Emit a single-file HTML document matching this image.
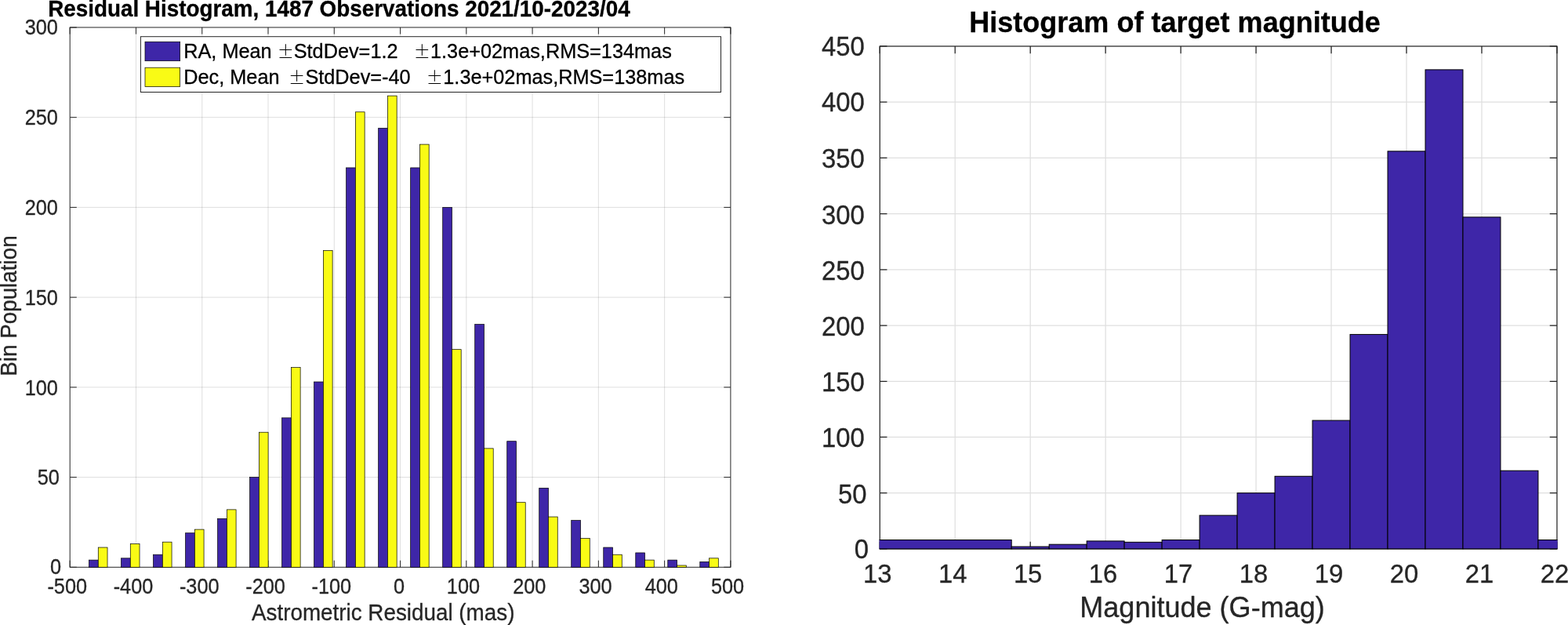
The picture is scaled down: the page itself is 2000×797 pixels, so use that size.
<!DOCTYPE html>
<html lang="en">
<head>
<meta charset="utf-8">
<title>Residual Histogram</title>
<style>
html,body{margin:0;padding:0;background:#fff;}
body{width:2000px;height:797px;overflow:hidden;}
svg{display:block;font-family:"Liberation Sans",Arial,Helvetica,sans-serif;fill:#262626;}
text{white-space:pre;fill:#262626;stroke:#262626;stroke-width:0.3px;stroke-linejoin:round;}
text.k{fill:#000;stroke:#000;}
text .pm{stroke-width:0;}
</style>
</head>
<body>
<svg width="2000" height="797" viewBox="0 0 2000 797">
<rect width="2000" height="797" fill="#fff"/>
<g id="left-plot">
<path d="M173.47 34.96V723.3M257.74 34.96V723.3M342.01 34.96V723.3M426.28 34.96V723.3M510.55 34.96V723.3M594.82 34.96V723.3M679.09 34.96V723.3M763.36 34.96V723.3M847.63 34.96V723.3M89.2 608.58H931.9M89.2 493.85H931.9M89.2 379.13H931.9M89.2 264.41H931.9M89.2 149.68H931.9" stroke="#262626" stroke-opacity="0.15" stroke-width="1.0" fill="none"/>
<path d="M89.2 723.3v-8.6M89.2 34.96v8.6M173.47 723.3v-8.6M173.47 34.96v8.6M257.74 723.3v-8.6M257.74 34.96v8.6M342.01 723.3v-8.6M342.01 34.96v8.6M426.28 723.3v-8.6M426.28 34.96v8.6M510.55 723.3v-8.6M510.55 34.96v8.6M594.82 723.3v-8.6M594.82 34.96v8.6M679.09 723.3v-8.6M679.09 34.96v8.6M763.36 723.3v-8.6M763.36 34.96v8.6M847.63 723.3v-8.6M847.63 34.96v8.6M931.9 723.3v-8.6M931.9 34.96v8.6M89.2 723.3h8.6M931.9 723.3h-8.6M89.2 608.58h8.6M931.9 608.58h-8.6M89.2 493.85h8.6M931.9 493.85h-8.6M89.2 379.13h8.6M931.9 379.13h-8.6M89.2 264.41h8.6M931.9 264.41h-8.6M89.2 149.68h8.6M931.9 149.68h-8.6M89.2 34.96h8.6M931.9 34.96h-8.6" stroke="#262626" stroke-width="1.0" fill="none"/>
<rect x="89.2" y="34.96" width="842.7" height="688.34" stroke="#262626" stroke-width="1.0" fill="none"/>
<g stroke="#000000" stroke-width="0.7">
<rect x="113.53" y="714.12" width="11.75" height="9.18" fill="#3e26a8"/>
<rect x="125.28" y="698.06" width="11.75" height="25.24" fill="#f9fb15"/>
<rect x="154.54" y="711.83" width="11.75" height="11.47" fill="#3e26a8"/>
<rect x="166.29" y="693.47" width="11.75" height="29.83" fill="#f9fb15"/>
<rect x="195.56" y="707.24" width="11.75" height="16.06" fill="#3e26a8"/>
<rect x="207.31" y="691.18" width="11.75" height="32.12" fill="#f9fb15"/>
<rect x="236.57" y="679.71" width="11.75" height="43.59" fill="#3e26a8"/>
<rect x="248.32" y="675.12" width="11.75" height="48.18" fill="#f9fb15"/>
<rect x="277.59" y="661.35" width="11.75" height="61.95" fill="#3e26a8"/>
<rect x="289.34" y="649.88" width="11.75" height="73.42" fill="#f9fb15"/>
<rect x="318.6" y="608.58" width="11.75" height="114.72" fill="#3e26a8"/>
<rect x="330.35" y="551.21" width="11.75" height="172.09" fill="#f9fb15"/>
<rect x="359.62" y="532.86" width="11.75" height="190.44" fill="#3e26a8"/>
<rect x="371.37" y="468.61" width="11.75" height="254.69" fill="#f9fb15"/>
<rect x="400.63" y="486.97" width="11.75" height="236.33" fill="#3e26a8"/>
<rect x="412.38" y="319.47" width="11.75" height="403.83" fill="#f9fb15"/>
<rect x="441.64" y="213.93" width="11.75" height="509.37" fill="#3e26a8"/>
<rect x="453.39" y="142.8" width="11.75" height="580.5" fill="#f9fb15"/>
<rect x="482.66" y="163.45" width="11.75" height="559.85" fill="#3e26a8"/>
<rect x="494.41" y="122.15" width="11.75" height="601.15" fill="#f9fb15"/>
<rect x="523.67" y="213.93" width="11.75" height="509.37" fill="#3e26a8"/>
<rect x="535.42" y="184.1" width="11.75" height="539.2" fill="#f9fb15"/>
<rect x="564.69" y="264.41" width="11.75" height="458.89" fill="#3e26a8"/>
<rect x="576.44" y="445.67" width="11.75" height="277.63" fill="#f9fb15"/>
<rect x="605.7" y="413.55" width="11.75" height="309.75" fill="#3e26a8"/>
<rect x="617.45" y="571.87" width="11.75" height="151.43" fill="#f9fb15"/>
<rect x="646.71" y="562.69" width="11.75" height="160.61" fill="#3e26a8"/>
<rect x="658.46" y="640.7" width="11.75" height="82.6" fill="#f9fb15"/>
<rect x="687.73" y="622.34" width="11.75" height="100.96" fill="#3e26a8"/>
<rect x="699.48" y="659.05" width="11.75" height="64.25" fill="#f9fb15"/>
<rect x="728.74" y="663.64" width="11.75" height="59.66" fill="#3e26a8"/>
<rect x="740.49" y="686.59" width="11.75" height="36.71" fill="#f9fb15"/>
<rect x="769.76" y="698.06" width="11.75" height="25.24" fill="#3e26a8"/>
<rect x="781.51" y="707.24" width="11.75" height="16.06" fill="#f9fb15"/>
<rect x="810.77" y="704.94" width="11.75" height="18.36" fill="#3e26a8"/>
<rect x="822.52" y="714.12" width="11.75" height="9.18" fill="#f9fb15"/>
<rect x="851.79" y="714.12" width="11.75" height="9.18" fill="#3e26a8"/>
<rect x="863.54" y="721.01" width="11.75" height="2.29" fill="#f9fb15"/>
<rect x="892.8" y="716.42" width="11.75" height="6.88" fill="#3e26a8"/>
<rect x="904.55" y="711.83" width="11.75" height="11.47" fill="#f9fb15"/>
</g>
<text transform="translate(60.4 757.15) scale(1 1.06)" font-size="25.3">-500</text>
<text transform="translate(144.67 757.15) scale(1 1.06)" font-size="25.3">-400</text>
<text transform="translate(228.94 757.15) scale(1 1.06)" font-size="25.3">-300</text>
<text transform="translate(313.21 757.15) scale(1 1.06)" font-size="25.3">-200</text>
<text transform="translate(397.48 757.15) scale(1 1.06)" font-size="25.3">-100</text>
<text transform="translate(502 757.15) scale(1 1.06)" font-size="25.3">0</text>
<text transform="translate(569.87 757.15) scale(1 1.06)" font-size="25.3">100</text>
<text transform="translate(654.14 757.15) scale(1 1.06)" font-size="25.3">200</text>
<text transform="translate(738.41 757.15) scale(1 1.06)" font-size="25.3">300</text>
<text transform="translate(822.68 757.15) scale(1 1.06)" font-size="25.3">400</text>
<text transform="translate(906.95 757.15) scale(1 1.06)" font-size="25.3">500</text>
<text transform="translate(64.1 732.25) scale(1 1.06)" font-size="25.3">0</text>
<text transform="translate(47.8 617.53) scale(1 1.06)" font-size="25.3">50</text>
<text transform="translate(31.7 503.65) scale(1 1.06)" font-size="25.3">100</text>
<text transform="translate(31.7 388.93) scale(1 1.06)" font-size="25.3">150</text>
<text transform="translate(31.7 274.21) scale(1 1.06)" font-size="25.3">200</text>
<text transform="translate(31.7 158.68) scale(1 1.06)" font-size="25.3">250</text>
<text transform="translate(31.7 43.91) scale(1 1.06)" font-size="25.3">300</text>
<text transform="translate(320.95 791.3) scale(1 1.045)" font-size="27.83">Astrometric Residual (mas)</text>
<text transform="translate(20.6 479.8) rotate(-90) scale(1 1.07)" font-size="27.83">Bin Population</text>
<text transform="translate(61.14 20.85) scale(1 1.03)" font-size="27.83" class="k" font-weight="bold">Residual Histogram, 1487 Observations 2021/10-2023/04</text>
<rect x="179.4" y="46.7" width="740.1" height="70.8" fill="#fff" stroke="#262626" stroke-width="1.0"/>
<rect x="185" y="53.25" width="44.65" height="24.45" fill="#3e26a8" stroke="#000000" stroke-width="0.7"/>
<rect x="185" y="86.2" width="44.65" height="24.45" fill="#f9fb15" stroke="#000000" stroke-width="0.7"/>
<text class="k" transform="translate(234.25 74.2) scale(1 1.045)" font-size="25.3"><tspan>RA, Mean </tspan><tspan class="pm" x="119.4" dy="-0.19" font-family="&quot;Noto Sans CJK JP&quot;,&quot;Noto Sans CJK SC&quot;,&quot;DejaVu Sans&quot;,sans-serif" font-weight="300" font-size="21.2">±</tspan><tspan x="140.45" dy="0.19">StdDev=1.2   </tspan><tspan class="pm" x="293.5" dy="-0.19" font-family="&quot;Noto Sans CJK JP&quot;,&quot;Noto Sans CJK SC&quot;,&quot;DejaVu Sans&quot;,sans-serif" font-weight="300" font-size="21.2">±</tspan><tspan x="314.75" dy="0.19">1.3e+02mas,RMS=134mas</tspan></text>
<text class="k" transform="translate(234.25 107.2) scale(1 1.045)" font-size="25.3"><tspan>Dec, Mean  </tspan><tspan class="pm" x="133.7" dy="-0.19" font-family="&quot;Noto Sans CJK JP&quot;,&quot;Noto Sans CJK SC&quot;,&quot;DejaVu Sans&quot;,sans-serif" font-weight="300" font-size="21.2">±</tspan><tspan x="155.15" dy="0.19">StdDev=-40   </tspan><tspan class="pm" x="309.4" dy="-0.19" font-family="&quot;Noto Sans CJK JP&quot;,&quot;Noto Sans CJK SC&quot;,&quot;DejaVu Sans&quot;,sans-serif" font-weight="300" font-size="21.2">±</tspan><tspan x="331.05" dy="0.19">1.3e+02mas,RMS=138mas</tspan></text>
</g>
<g id="right-plot">
<path d="M1218.21 58.98V699.9M1314.18 58.98V699.9M1410.14 58.98V699.9M1506.11 58.98V699.9M1602.08 58.98V699.9M1698.05 58.98V699.9M1794.01 58.98V699.9M1889.98 58.98V699.9M1122.24 628.69H1985.95M1122.24 557.47H1985.95M1122.24 486.26H1985.95M1122.24 415.05H1985.95M1122.24 343.83H1985.95M1122.24 272.62H1985.95M1122.24 201.41H1985.95M1122.24 130.19H1985.95" stroke="#262626" stroke-opacity="0.15" stroke-width="1.25" fill="none"/>
<path d="M1122.24 699.9v-9.2M1122.24 58.98v9.2M1218.21 699.9v-9.2M1218.21 58.98v9.2M1314.18 699.9v-9.2M1314.18 58.98v9.2M1410.14 699.9v-9.2M1410.14 58.98v9.2M1506.11 699.9v-9.2M1506.11 58.98v9.2M1602.08 699.9v-9.2M1602.08 58.98v9.2M1698.05 699.9v-9.2M1698.05 58.98v9.2M1794.01 699.9v-9.2M1794.01 58.98v9.2M1889.98 699.9v-9.2M1889.98 58.98v9.2M1985.95 699.9v-9.2M1985.95 58.98v9.2M1122.24 699.9h9.2M1985.95 699.9h-9.2M1122.24 628.69h9.2M1985.95 628.69h-9.2M1122.24 557.47h9.2M1985.95 557.47h-9.2M1122.24 486.26h9.2M1985.95 486.26h-9.2M1122.24 415.05h9.2M1985.95 415.05h-9.2M1122.24 343.83h9.2M1985.95 343.83h-9.2M1122.24 272.62h9.2M1985.95 272.62h-9.2M1122.24 201.41h9.2M1985.95 201.41h-9.2M1122.24 130.19h9.2M1985.95 130.19h-9.2M1122.24 58.98h9.2M1985.95 58.98h-9.2" stroke="#262626" stroke-width="1.25" fill="none"/>
<rect x="1122.24" y="58.98" width="863.71" height="640.92" stroke="#262626" stroke-width="1.25" fill="none"/>
<clipPath id="rclip"><rect x="1121.62" y="58.98" width="864.96" height="641.92"/></clipPath>
<g stroke="#000000" stroke-width="1.0" fill="#3e26a8" clip-path="url(#rclip)">
<rect x="1112.64" y="688.51" width="177.54" height="11.39"/>
<rect x="1290.18" y="697.05" width="47.98" height="2.85"/>
<rect x="1338.17" y="694.2" width="47.98" height="5.7"/>
<rect x="1386.15" y="689.93" width="47.98" height="9.97"/>
<rect x="1434.14" y="691.35" width="47.98" height="8.55"/>
<rect x="1482.12" y="688.51" width="47.98" height="11.39"/>
<rect x="1530.1" y="657.17" width="47.98" height="42.73"/>
<rect x="1578.09" y="628.69" width="47.98" height="71.21"/>
<rect x="1626.07" y="607.32" width="47.98" height="92.58"/>
<rect x="1674.05" y="536.11" width="47.98" height="163.79"/>
<rect x="1722.04" y="426.44" width="47.98" height="273.46"/>
<rect x="1770.02" y="192.86" width="47.98" height="507.04"/>
<rect x="1818.01" y="88.89" width="47.98" height="611.01"/>
<rect x="1865.99" y="276.89" width="47.98" height="423.01"/>
<rect x="1913.97" y="600.2" width="47.98" height="99.7"/>
<rect x="1961.96" y="688.51" width="47.98" height="11.39"/>
</g>
<text transform="translate(1100.94 742.5) scale(1 1.04)" font-size="32.8">13</text>
<text transform="translate(1196.91 742.5) scale(1 1.04)" font-size="32.8">14</text>
<text transform="translate(1292.88 742.5) scale(1 1.04)" font-size="32.8">15</text>
<text transform="translate(1388.84 742.5) scale(1 1.04)" font-size="32.8">16</text>
<text transform="translate(1484.81 742.5) scale(1 1.04)" font-size="32.8">17</text>
<text transform="translate(1580.78 742.5) scale(1 1.04)" font-size="32.8">18</text>
<text transform="translate(1676.75 742.5) scale(1 1.04)" font-size="32.8">19</text>
<text transform="translate(1772.71 742.5) scale(1 1.04)" font-size="32.8">20</text>
<text transform="translate(1868.68 742.5) scale(1 1.04)" font-size="32.8">21</text>
<text transform="translate(1964.65 742.5) scale(1 1.04)" font-size="32.8">22</text>
<text transform="translate(1089.77 712.3) scale(1 1.045)" font-size="32.8">0</text>
<text transform="translate(1068.9 641.59) scale(1 1.045)" font-size="32.8">50</text>
<text transform="translate(1048.06 570.37) scale(1 1.045)" font-size="32.8">100</text>
<text transform="translate(1048.06 499.16) scale(1 1.045)" font-size="32.8">150</text>
<text transform="translate(1048.06 427.95) scale(1 1.045)" font-size="32.8">200</text>
<text transform="translate(1048.06 356.73) scale(1 1.045)" font-size="32.8">250</text>
<text transform="translate(1048.06 285.52) scale(1 1.045)" font-size="32.8">300</text>
<text transform="translate(1048.06 214.31) scale(1 1.045)" font-size="32.8">350</text>
<text transform="translate(1048.06 142.19) scale(1 1.045)" font-size="32.8">400</text>
<text transform="translate(1048.06 71.48) scale(1 1.045)" font-size="32.8">450</text>
<text transform="translate(1377.3 786.5) scale(1 1.045)" font-size="36.05">Magnitude (G-mag)</text>
<text transform="translate(1236.19 40.9) scale(1 1.045)" font-size="36.05" class="k" font-weight="bold">Histogram of target magnitude</text>
</g>
</svg>
</body>
</html>
